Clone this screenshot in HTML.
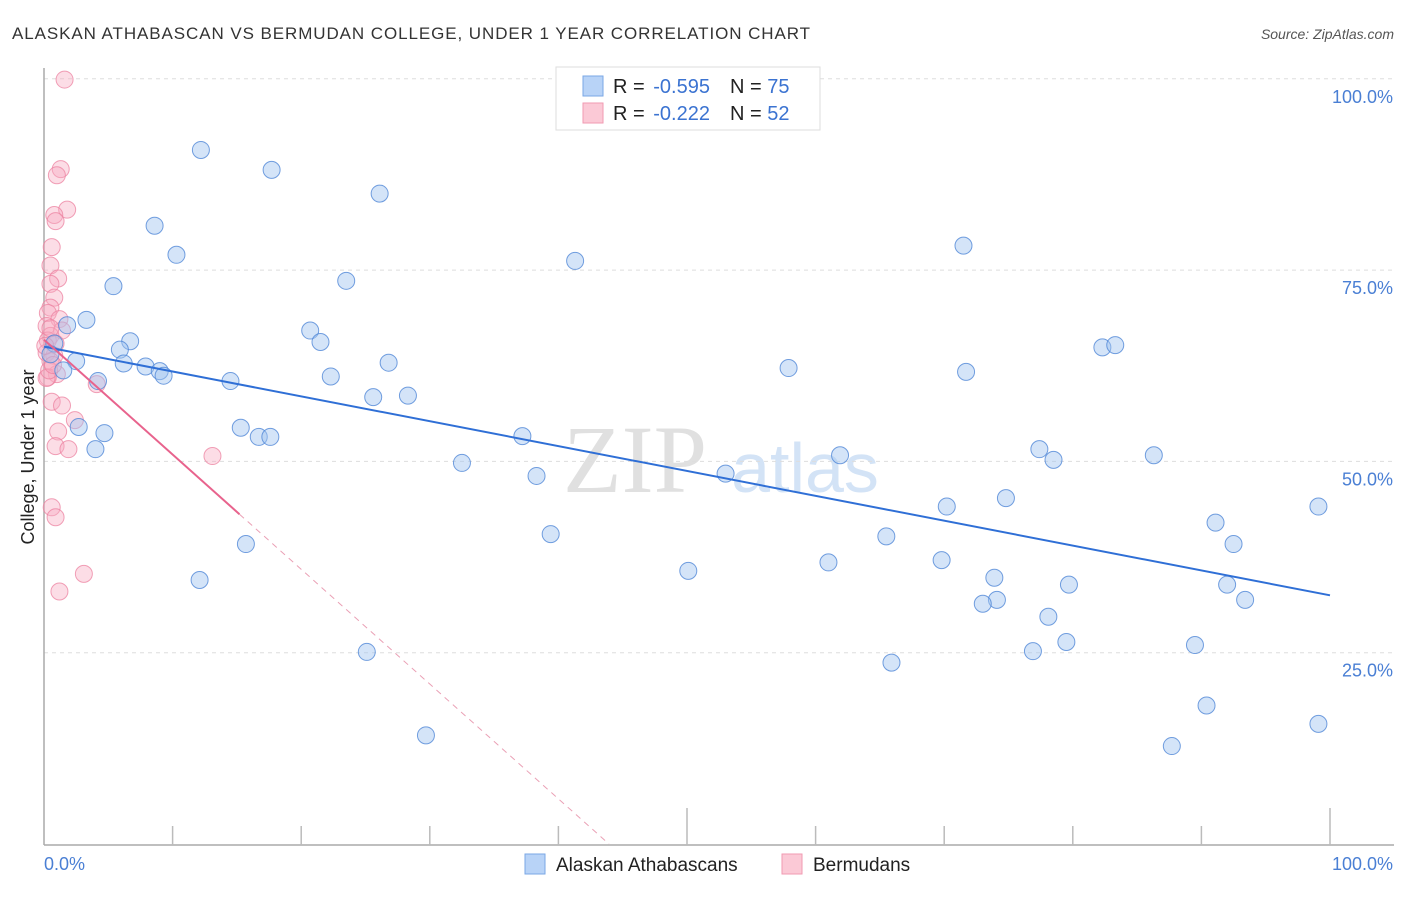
<!DOCTYPE html>
<html><head><meta charset="utf-8"><style>
body{margin:0;background:#fff;font-family:"Liberation Sans",sans-serif}
</style></head><body>
<svg width="1406" height="892" xmlns="http://www.w3.org/2000/svg" id="chart" font-family="Liberation Sans, sans-serif">
<text x="12" y="39" font-size="17" fill="#333" textLength="798">ALASKAN ATHABASCAN VS BERMUDAN COLLEGE, UNDER 1 YEAR CORRELATION CHART</text>
<text x="1394" y="39" font-size="14" fill="#555" font-style="italic" text-anchor="end">Source: ZipAtlas.com</text>
<text x="635" y="492" font-size="96" fill="#e0e0e0" font-family="Liberation Serif, serif" text-anchor="middle">ZIP</text>
<text x="805" y="492" font-size="70" fill="#d3e3f6" text-anchor="middle">atlas</text>
<g id="grid"></g>
<g id="axes"></g>
<g id="pts"></g>
<g id="trend"></g>
<text transform="translate(34,457) rotate(-90)" font-size="18" fill="#222" text-anchor="middle">College, Under 1 year</text>
<g>
<rect x="556" y="67" width="264" height="63" fill="#fff" stroke="#ddd"/>
<rect x="583" y="76" width="20" height="20" fill="#b8d3f7" stroke="#7aa7e6"/>
<rect x="583" y="103" width="20" height="20" fill="#fbc9d6" stroke="#f09ab2"/>
<text x="613" y="93" font-size="20" fill="#222">R = <tspan dx="3" fill="#3b73d1">-0.595</tspan><tspan dx="20">N = </tspan><tspan fill="#3b73d1">75</tspan></text>
<text x="613" y="120" font-size="20" fill="#222">R = <tspan dx="3" fill="#3b73d1">-0.222</tspan><tspan dx="20">N = </tspan><tspan fill="#3b73d1">52</tspan></text>
</g>
<g>
<rect x="525" y="854" width="20" height="20" fill="#b8d3f7" stroke="#7aa7e6"/>
<text x="556" y="871" font-size="19" fill="#222">Alaskan Athabascans</text>
<rect x="782" y="854" width="20" height="20" fill="#fbc9d6" stroke="#f09ab2"/>
<text x="813" y="871" font-size="19" fill="#222">Bermudans</text>
</g>
</svg>
<script>
const blueX=[12.2,17.7,26.1,8.6,10.3,5.4,23.5,41.3,71.5,3.3,20.7,21.5,1.8,6.7,5.9,0.8,6.2,7.9,9.0,9.3,2.5,1.5,4.2,14.5,22.3,26.8,28.3,25.6,57.9,71.7,82.3,83.3,2.7,4.7,4.0,15.3,16.7,17.6,37.2,61.9,53.0,38.3,32.5,77.4,78.5,86.3,74.8,70.2,99.1,91.1,92.5,39.4,15.7,65.5,12.1,50.1,61.0,69.8,73.9,79.7,74.1,73.0,92.0,93.4,78.1,25.1,79.5,76.9,65.9,89.5,29.7,90.4,87.7,99.1,0.5];
const blueY=[90.7,88.1,85.0,80.8,77.0,72.9,73.6,76.2,78.2,68.5,67.1,65.6,67.8,65.7,64.6,65.4,62.8,62.4,61.8,61.2,63.1,61.9,60.5,60.5,61.1,62.9,58.6,58.4,62.2,61.7,64.9,65.2,54.5,53.7,51.6,54.4,53.2,53.2,53.3,50.8,48.4,48.1,49.8,51.6,50.2,50.8,45.2,44.1,44.1,42.0,39.2,40.5,39.2,40.2,34.5,35.7,36.8,37.1,34.8,33.9,31.9,31.4,33.9,31.9,29.7,25.1,26.4,25.2,23.7,26.0,14.2,18.1,12.8,15.7,64.0];
const pinkX=[1.6,1.3,1.0,1.8,0.8,0.9,0.6,0.5,1.1,0.5,0.8,0.5,0.3,1.2,0.2,1.4,0.5,0.3,0.9,0.2,0.8,0.5,1.0,0.3,4.1,2.4,0.6,1.4,1.1,0.9,1.9,13.1,0.6,0.9,3.1,1.2,0.2,0.4,0.7,0.5,0.1];
const pinkY=[99.9,88.2,87.4,82.9,82.2,81.4,78.0,75.6,73.9,73.2,71.4,70.1,69.4,68.6,67.7,67.1,66.4,65.8,65.4,64.2,63.8,63.1,61.4,61.0,60.1,55.4,57.8,57.3,53.9,52.0,51.6,50.7,44.0,42.7,35.3,33.0,60.9,61.9,62.6,67.4,65.1];
const blueTrend=[65.0,32.5];
const pinkTrend=[65.9,-1.5];
const yTicks=[100,75,50,25];
const X=v=>44+v*12.86, Y=v=>844-v*7.652;
const NS='http://www.w3.org/2000/svg';
function mk(p,t,a){const e=document.createElementNS(NS,t);for(const k in a)e.setAttribute(k,a[k]);document.getElementById(p).appendChild(e);return e;}
yTicks.forEach(t=>{
 const g=mk('grid','line',{x1:44,x2:1394,y1:Y(t),y2:Y(t),stroke:'#ddd','stroke-dasharray':'4,4'});
 
 
 const l=mk('grid','text',{x:1393,y:Y(t)+24,'font-size':18,fill:'#4a7fd4','text-anchor':'end'});
 l.textContent=t.toFixed(1)+'%';
 
 
});
const ya=mk('axes','line',{x1:44,x2:44,y1:68,y2:845,stroke:'#aaa','stroke-width':1.5});


const xa=mk('axes','line',{x1:44,x2:1394,y1:845,y2:845,stroke:'#aaa','stroke-width':1.5});


for(let i=1;i<=10;i++){
 const tk=mk('axes','line',{x1:X(i*10),x2:X(i*10),y1:i==5||i==10?808:826,y2:845,stroke:'#bbb','stroke-width':1.5});
 
 
}
[['0.0%',44,'start'],['100.0%',1393,'end']].forEach(([s,x,a])=>{
 const t=mk('axes','text',{x:x,y:870,'font-size':18,fill:'#4a7fd4','text-anchor':a});t.textContent=s;
 
 
});
pinkX.forEach((v,i)=>{
 const c=mk('pts','circle',{cx:X(v),cy:Y(pinkY[i]),r:8.5,fill:'rgba(247,170,192,0.4)',stroke:'rgba(236,130,160,0.75)','stroke-width':1});
 
 
});
blueX.forEach((v,i)=>{
 const c=mk('pts','circle',{cx:X(v),cy:Y(blueY[i]),r:8.5,fill:'rgba(160,196,240,0.45)',stroke:'rgba(80,135,215,0.8)','stroke-width':1});
 
 
});
const bt=mk('trend','line',{x1:X(0),y1:Y(blueTrend[0]),x2:X(100),y2:Y(blueTrend[1]),stroke:'#2f6fd6','stroke-width':2});


const pe=15.2, pz=-pinkTrend[0]/pinkTrend[1];
const pt=mk('trend','line',{x1:X(0),y1:Y(pinkTrend[0]),x2:X(pe),y2:Y(pinkTrend[0]+pinkTrend[1]*pe),stroke:'#e8638d','stroke-width':2});


const pd=mk('trend','line',{x1:X(pe),y1:Y(pinkTrend[0]+pinkTrend[1]*pe),x2:X(pz),y2:Y(0),stroke:'#eaa0b5','stroke-width':1,'stroke-dasharray':'6,5'});


</script>
</body></html>
